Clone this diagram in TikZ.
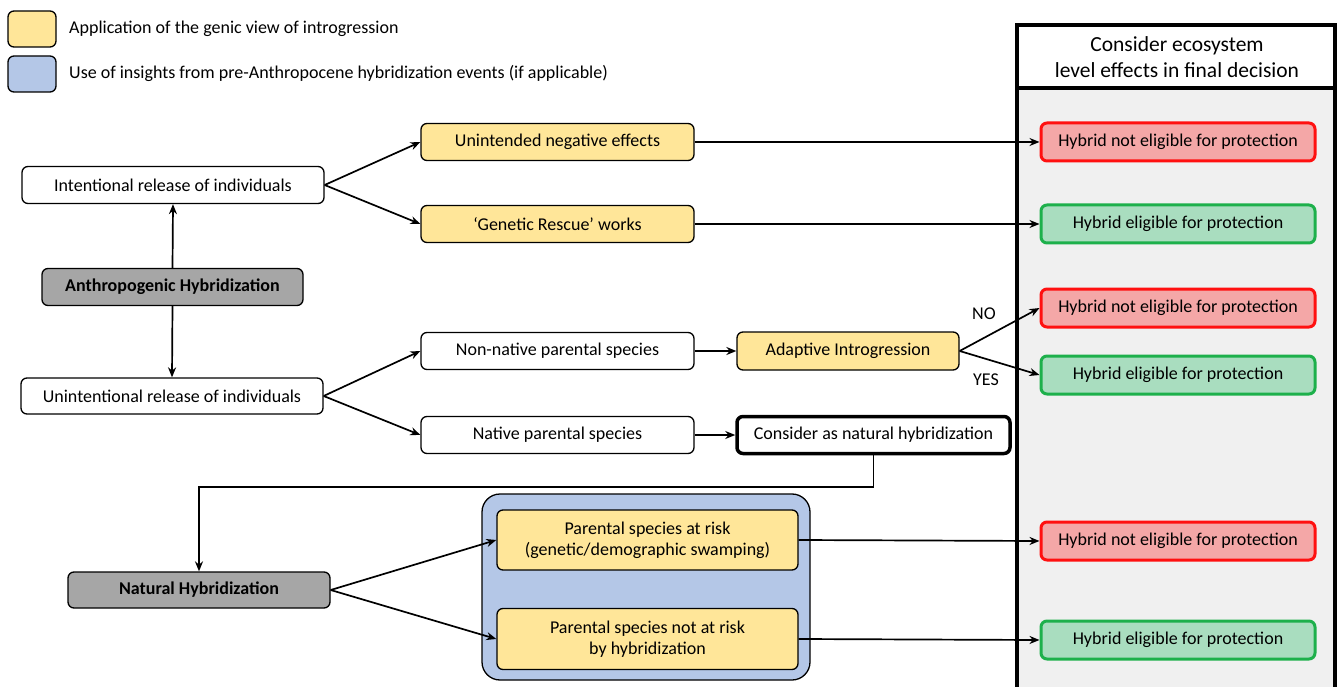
\documentclass[tikz,border=0pt]{standalone}
\usepackage{fontspec}
\setmainfont{Carlito}
\usetikzlibrary{arrows.meta}
\definecolor{yel}{HTML}{FFE699}
\definecolor{blu}{HTML}{B4C7E7}
\definecolor{gry}{HTML}{A6A6A6}
\definecolor{colbg}{HTML}{F0F0F0}
\definecolor{redfill}{HTML}{F4A7A7}
\definecolor{redline}{HTML}{FF1010}
\definecolor{grnfill}{HTML}{A9DDBF}
\definecolor{grnline}{HTML}{1DB04B}
\tikzset{
  box/.style={draw=black, line width=1.3pt, rounded corners=6pt, align=center, inner sep=0pt, font=\fontsize{18}{21}\selectfont},
  wbox/.style={box, fill=white},
  ybox/.style={box, fill=yel},
  gbox/.style={box, fill=gry, font=\fontsize{18}{21}\selectfont\bfseries},
  nobox/.style={box, draw=redline, fill=redfill, line width=3pt, minimum width=274pt, minimum height=38pt},
  yesbox/.style={box, draw=grnline, fill=grnfill, line width=3pt, minimum width=274pt, minimum height=38pt},
  arr/.style={-{Stealth[length=10pt,width=8pt]}, line width=1.7pt},
  lbl/.style={font=\fontsize{18}{21}\selectfont, anchor=west, inner sep=0pt}
}
\begin{document}
\begin{tikzpicture}[x=1pt,y=-1pt]
\useasboundingbox (0,0) rectangle (1339,687);
% right column
\fill[colbg] (1017,88) rectangle (1335,700);
\fill[white] (1017,25) rectangle (1335,88);
\draw[line width=4pt] (1017,700) -- (1017,25) -- (1335,25) -- (1335,700);
\draw[line width=4pt] (1017,88) -- (1335,88);
\node[align=center, font=\fontsize{21.5}{26}\selectfont] (hdr) at (1177,57) {Consider ecosystem\\level effects in final decision};
% legend
\node[box, fill=yel, minimum width=48pt, minimum height=36pt] (ly) at (32,29) {};
\node[box, fill=blu, minimum width=48pt, minimum height=36pt] (lb) at (32,74) {};
\node[lbl] (lyt) at (69,29) {Application of the genic view of introgression};
\node[lbl] (lbt) at (69,73) {Use of insights from pre-Anthropocene hybridization events (if applicable)};
% blue container
\node[box, fill=blu, rounded corners=18pt, minimum width=328pt, minimum height=186pt] (blue) at (646,587) {};
% left nodes
\node[wbox, minimum width=302pt, minimum height=37pt] (intent) at (173,185) {Intentional release of individuals};
\node[gbox, minimum width=261pt, minimum height=37pt] (anthro) at (172.5,287) {Anthropogenic Hybridization};
\node[wbox, minimum width=302pt, minimum height=36pt] (unint) at (172,396) {Unintentional release of individuals};
\node[gbox, minimum width=262pt, minimum height=36pt] (natural) at (199,590) {Natural Hybridization};
% middle nodes
\node[ybox, minimum width=273pt, minimum height=37pt] (unneg) at (557.5,142) {Unintended negative effects};
\node[ybox, minimum width=273pt, minimum height=37pt] (rescue) at (557.5,224) {‘Genetic Rescue’ works};
\node[wbox, minimum width=273pt, minimum height=37pt] (nonnat) at (557.5,351) {Non-native parental species};
\node[wbox, minimum width=273pt, minimum height=37pt] (native) at (557.5,435) {Native parental species};
\node[ybox, minimum width=222pt, minimum height=38pt] (adapt) at (848,351) {Adaptive Introgression};
\node[wbox, line width=3.5pt, minimum width=273pt, minimum height=37pt] (consnat) at (873.5,435) {Consider as natural hybridization};
\node[ybox, minimum width=301pt, minimum height=60pt] (risk) at (647.5,540) {Parental species at risk\\(genetic/demographic swamping)};
\node[ybox, minimum width=301pt, minimum height=61pt] (norisk) at (647.5,639) {Parental species not at risk\\by hybridization};
% outcome nodes
\node[nobox] (r1) at (1178,142) {Hybrid not eligible for protection};
\node[yesbox] (g1) at (1178,224) {Hybrid eligible for protection};
\node[nobox] (r2) at (1178,308) {Hybrid not eligible for protection};
\node[yesbox] (g2) at (1178,375) {Hybrid eligible for protection};
\node[nobox] (r3) at (1178,541) {Hybrid not eligible for protection};
\node[yesbox] (g3) at (1178,640) {Hybrid eligible for protection};
% labels
\node[font=\fontsize{18}{21}\selectfont] (no) at (984,314) {NO};
\node[font=\fontsize{18}{21}\selectfont] (yes) at (986,380) {YES};
% connectors
\draw[arr] (anthro.north) -- (intent.south);
\draw[arr] (anthro.south) -- (unint.north);
\draw[arr] (intent.east) -- (unneg.west);
\draw[arr] (intent.east) -- (rescue.west);
\draw[arr] (unint.east) -- (nonnat.west);
\draw[arr] (unint.east) -- (native.west);
\draw[arr] (nonnat.east) -- (adapt.west);
\draw[arr] (native.east) -- (consnat.west);
\draw[arr] (adapt.east) -- (r2.west);
\draw[arr] (adapt.east) -- (g2.west);
\draw[arr] (unneg.east) -- (r1.west);
\draw[arr] (rescue.east) -- (g1.west);
\draw[arr] (consnat.south) -- ++(0,32) -| (natural.north);
\draw[arr] (natural.east) -- (risk.west);
\draw[arr] (natural.east) -- (norisk.west);
\draw[arr] (risk.east) -- (r3.west);
\draw[arr] (norisk.east) -- (g3.west);
\end{tikzpicture}
\end{document}
